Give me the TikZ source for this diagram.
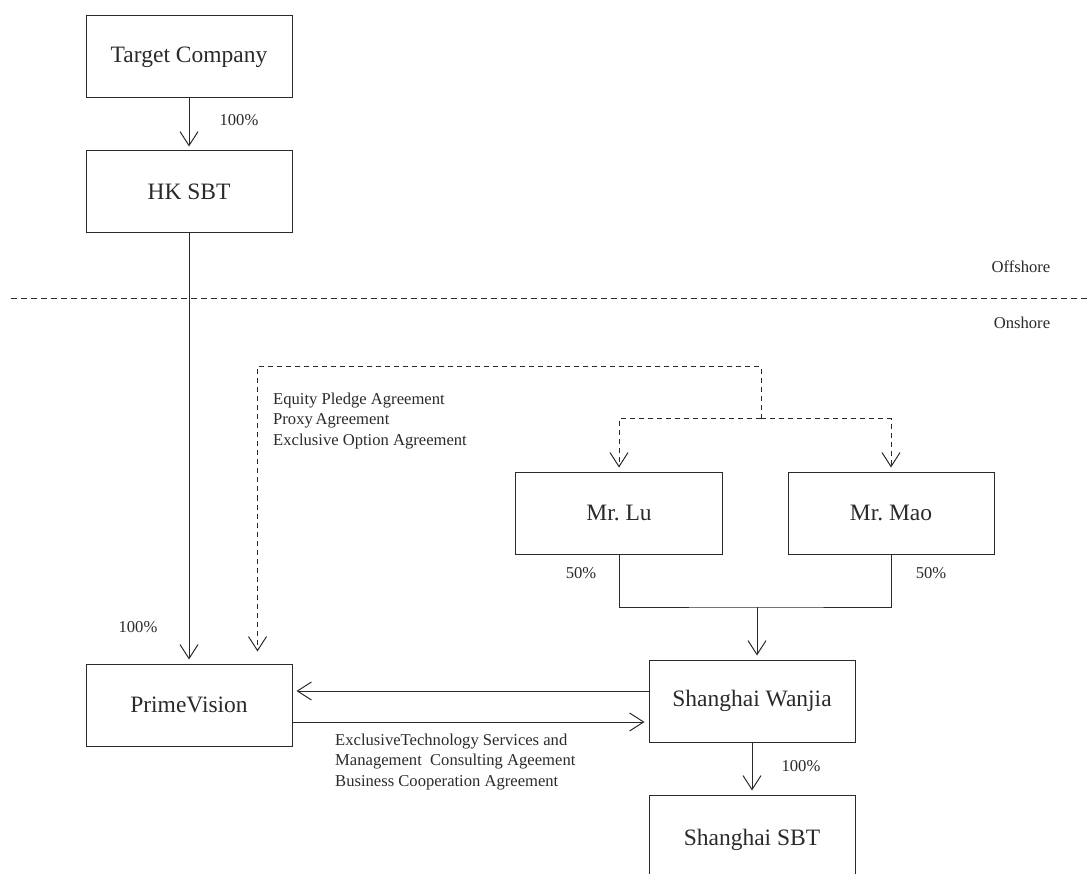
\documentclass[tikz,border=0pt]{standalone}
\usepackage{fontspec}
\setmainfont{Liberation Serif}
\usepackage{tikz}
\usetikzlibrary{arrows.meta,calc,positioning}
\frenchspacing
\definecolor{inkgray}{HTML}{2A2A2A}
\tikzset{
  entity/.style={draw=inkgray,line width=1pt,minimum width=206pt,minimum height=82pt,inner sep=0pt,text=inkgray,font=\fontsize{23.5}{28}\selectfont},
  own/.style={inkgray,line width=1pt,-{Straight Barb[length=14pt,width=18pt]},shorten >=4pt},
  pact/.style={inkgray,line width=1pt,dash pattern=on 5pt off 4pt,-{Straight Barb[length=14pt,width=18pt]},shorten >=4pt},
  note/.style={inkgray,inner sep=0pt,align=left,font=\fontsize{16.6}{20.5}\selectfont}
}
\begin{document}
\begin{tikzpicture}[x=1pt,y=-1pt]
\clip (0,0) rectangle (1087,874);
% offshore / onshore
\draw[inkgray,line width=1pt,dash pattern=on 6pt off 4pt] (11,299) -- (1087,299);
\node[note] (off) at (1021,267) {Offshore};
\node[note] (on) at (1022,323) {Onshore};
% companies
\node[entity] (target) at (189,57) {Target Company};
\node[entity] (hksbt) at (189,192) {HK SBT};
\node[entity] (prime) at (189,705) {PrimeVision};
\node[entity,minimum width=207pt] (lu) at (619,513) {Mr.\ Lu};
\node[entity] (mao) at (891,513) {Mr.\ Mao};
\node[entity] (wanjia) at (752,701) {Shanghai Wanjia};
\node[entity,minimum height=90pt] (ssbt) at (752,840) {Shanghai SBT};
% ownership
\draw[own] (target) -- (hksbt);
\node[note] (p1) at (239,120) {100\%};
\draw[own] (hksbt) -- (prime);
\node[note] (p2) at (138,627) {100\%};
\coordinate (joint) at (757,607);
\draw[inkgray,line width=1pt] (lu.south) |- (joint) -| (mao.south);
\draw[own] (joint) -- (joint |- wanjia.north);
\node[note] (p3) at (581,573) {50\%};
\node[note] (p4) at (931,573) {50\%};
\draw[own] (wanjia) -- (ssbt);
\node[note] (p5) at (801,766) {100\%};
% contracts
\coordinate (fork) at (761,419);
\coordinate (ptop) at (761,367);
\draw[pact,shorten >=12pt] (fork) -- (ptop) -| ([xshift=68.5pt]prime.north);
\draw[pact] (fork) -| (lu.north);
\draw[pact] (fork) -| (mao.north);
\node[note,anchor=west] (vie) at (273,421) {Equity Pledge Agreement\\Proxy\,Agreement\\Exclusive Option Agreement};
\draw[own] ([yshift=10pt]wanjia.west) -- ([yshift=10pt]wanjia.west -| prime.east);
\draw[own] ([yshift=-21pt]wanjia.west -| prime.east) -- ([yshift=-21pt]wanjia.west);
\node[note,anchor=west] (svc) at (335,762) {ExclusiveTechnology Services and\\Management\ \ Consulting Ageement\\Business Cooperation Agreement};
\end{tikzpicture}
\end{document}
